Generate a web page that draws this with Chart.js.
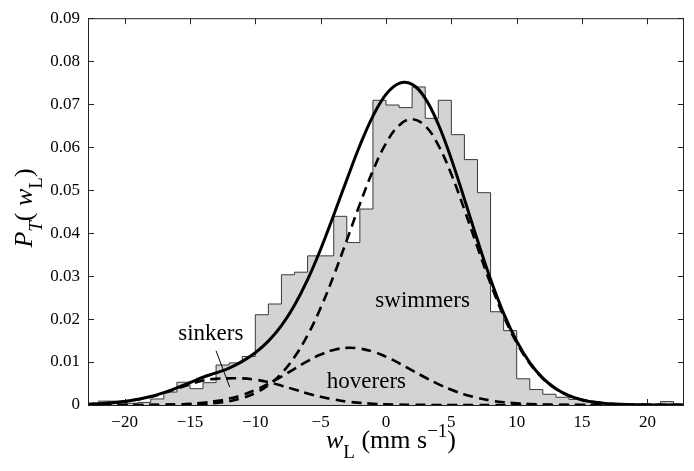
<!DOCTYPE html>
<html><head><meta charset="utf-8">
<script src="https://cdn.jsdelivr.net/npm/chart.js@4.4.0/dist/chart.umd.min.js"></script>
<style>html,body{margin:0;padding:0;background:#fff}#wrap{width:694px;height:471px}</style>
</head><body><div id="wrap"><canvas id="c" width="694" height="471"></canvas></div>
<script>
// Histogram: left bin edges (bin width 1) and heights
const binEdges = [-23,-22,-21,-20,-19,-18,-17,-16,-15,-14,-13,-12,-11,-10,-9,-8,-7,-6,-5,-4,-3,-2,-1,0,1,2,3,4,5,6,7,8,9,10,11,12,13,14,15,16,17,18,19,20,21,22,23];
const binHeights = [0.0004,0.0009,0.0009,0.0004,0.0006,0.0014,0.0030,0.0053,0.0038,0.0052,0.0093,0.0098,0.0113,0.0210,0.0235,0.0303,0.0309,0.0347,0.0347,0.0439,0.0378,0.0456,0.0709,0.0698,0.0692,0.0740,0.0667,0.0709,0.0629,0.0571,0.0494,0.0217,0.0173,0.0061,0.0036,0.0025,0.0018,0.0013,0.0009,0.0004,0.0002,0.0001,0.0001,0.0001,0.0008,0.0000,0.0000];

// Fitted curves read at integer w_L
const curveX = [-23,-22,-21,-20,-19,-18,-17,-16,-15,-14,-13,-12,-11,-10,-9,-8,-7,-6,-5,-4,-3,-2,-1,0,1,2,3,4,5,6,7,8,9,10,11,12,13,14,15,16,17,18,19,20,21,22,23];
const totalPDF = [0.00015,0.0003,0.00051,0.00083,0.00132,0.00197,0.00289,0.0040,0.00519,0.00646,0.00747,0.00858,0.01015,0.01217,0.01486,0.01846,0.0232,0.02915,0.03624,0.04421,0.05243,0.06037,0.06723,0.07228,0.07485,0.0746,0.07136,0.06533,0.05721,0.0479,0.03832,0.02927,0.02135,0.01487,0.00988,0.00626,0.00379,0.00219,0.0012,0.00063,0.00031,0.00015,0.00007,0.00003,0.00001,0,0];
const swimmersPDF = [0,0,0,0,0,0.00001,0.00002,0.00005,0.00011,0.00024,0.00047,0.00089,0.00161,0.00279,0.00463,0.00735,0.01117,0.01624,0.0226,0.0301,0.03834,0.04675,0.05454,0.0609,0.06505,0.0665,0.06494,0.06046,0.05367,0.04543,0.03667,0.02822,0.02071,0.01449,0.00967,0.00615,0.00373,0.00216,0.00119,0.00063,0.00031,0.00015,0.00007,0.00003,0.00001,0,0];
const hoverersPDF = [0,0,0,0,0.00001,0.00003,0.00007,0.00015,0.00028,0.00052,0.0009,0.00149,0.00234,0.00348,0.00493,0.00661,0.00843,0.01021,0.01174,0.01281,0.01329,0.01312,0.0124,0.01122,0.00972,0.00806,0.0064,0.00487,0.00354,0.00247,0.00165,0.00105,0.00064,0.00038,0.00021,0.00011,0.00006,0.00003,0.00001,0,0,0,0,0,0,0,0];
const sinkersPDF = [0.00015,0.0003,0.0005,0.0008,0.0013,0.0019,0.0028,0.0038,0.0048,0.0057,0.0061,0.0062,0.0062,0.0059,0.0053,0.0045,0.0036,0.0027,0.0019,0.0013,0.0008,0.0005,0.00029,0.00016,0.00008,0.00004,0.00002,0.00001,0,0,0,0,0,0,0,0,0,0,0,0,0,0,0,0,0,0,0];

const xTickValues = [-20,-15,-10,-5,0,5,10,15,20];
const yTickValues = [0,0.01,0.02,0.03,0.04,0.05,0.06,0.07,0.08,0.09];
const yTickLabels = ['0','0.01','0.02','0.03','0.04','0.05','0.06','0.07','0.08','0.09'];

const labelTexts = ['swimmers','sinkers','hoverers'];
const labelX = [2.8,-13.4,-1.5];
const labelY = [0.0229,0.0151,0.0039];
const pointerX = [-13.0,-11.96];
const pointerY = [0.0126,0.0042];

const SERIF = "'Liberation Serif','Times New Roman',serif";
Chart.defaults.font.family = SERIF;
Chart.defaults.font.size = 16;
Chart.defaults.color = '#000';

const pts = (xs, ys) => xs.map((v,i)=>({x:v,y:ys[i]}));

function fontFor(s, base){
  const sz = (s.sub||s.sup) ? Math.round(base*0.72) : base;
  return (s.italic?'italic ':'') + sz + 'px ' + SERIF;
}
function richText(ctx, segs, cx, cy, base){
  let w = 0;
  segs.forEach(s=>{ctx.font=fontFor(s,base); s.w=ctx.measureText(s.t).width; w+=s.w;});
  let xx = cx - w/2;
  segs.forEach(s=>{
    ctx.font=fontFor(s,base);
    const dy = s.sub ? base*0.38 : (s.sup ? -base*0.42 : 0);
    ctx.fillText(s.t, xx, cy+dy); xx += s.w;
  });
}

const frame = {
  id:'frame',
  beforeDatasetsDraw(chart){
    const {ctx, chartArea:a, scales:{x,y}} = chart;
    ctx.save();
    ctx.strokeStyle='#222'; ctx.lineWidth=1;
    const L=6;
    ctx.beginPath();
    xTickValues.forEach(v=>{const p=Math.round(x.getPixelForValue(v))+0.5;
      ctx.moveTo(p,a.bottom); ctx.lineTo(p,a.bottom-L); ctx.moveTo(p,a.top); ctx.lineTo(p,a.top+L);});
    yTickValues.forEach(v=>{const p=Math.round(y.getPixelForValue(v))+0.5;
      ctx.moveTo(a.left,p); ctx.lineTo(a.left+L,p); ctx.moveTo(a.right,p); ctx.lineTo(a.right-L,p);});
    ctx.stroke();
    ctx.restore();
  },
  afterDraw(chart){
    const {ctx, chartArea:a, scales:{x,y}} = chart;
    ctx.save();
    ctx.strokeStyle='#222'; ctx.lineWidth=1;
    ctx.strokeRect(a.left+0.5, a.top+0.5, a.right-a.left-1, a.bottom-a.top);
    // annotations
    ctx.fillStyle='#000'; ctx.textAlign='center'; ctx.textBaseline='alphabetic';
    ctx.font = '23px ' + SERIF;
    labelTexts.forEach((t,i)=>ctx.fillText(t, x.getPixelForValue(labelX[i]), y.getPixelForValue(labelY[i])));
    ctx.beginPath();
    ctx.moveTo(x.getPixelForValue(pointerX[0]), y.getPixelForValue(pointerY[0]));
    ctx.lineTo(x.getPixelForValue(pointerX[1]), y.getPixelForValue(pointerY[1]));
    ctx.lineWidth=1; ctx.strokeStyle='#000'; ctx.stroke();
    // axis titles
    ctx.textAlign='left';
    const cx = (a.left+a.right)/2;
    richText(ctx, [{t:'w',italic:true},{t:'L',sub:true},{t:' (mm s'},{t:'\u22121',sup:true},{t:')'}], cx+5, 448, 26);
    ctx.save();
    ctx.translate(32, 208);
    ctx.rotate(-Math.PI/2);
    richText(ctx, [{t:'P',italic:true},{t:'T',italic:true,sub:true},{t:'( '},{t:'w',italic:true},{t:'L',sub:true},{t:')'}], 0, 0, 26);
    ctx.restore();
    ctx.restore();
  }
};

const dashed = (data) => ({type:'line', data, borderColor:'#000', borderWidth:2.6, borderDash:[10,6],
  pointRadius:0, fill:false, tension:0.4, order:1});

new Chart(document.getElementById('c'), {
  type:'line',
  data:{datasets:[
    {type:'line', data:pts(curveX,totalPDF), borderColor:'#000', borderWidth:3, pointRadius:0, fill:false, tension:0.4, order:0},
    dashed(pts(curveX,swimmersPDF)),
    dashed(pts(curveX,hoverersPDF)),
    dashed(pts(curveX,sinkersPDF)),
    {type:'line', data:pts(binEdges,binHeights), stepped:'before', borderColor:'#3a3a3a', borderWidth:1,
      backgroundColor:'#d3d3d3', fill:'origin', pointRadius:0, tension:0, order:10}
  ]},
  options:{
    responsive:false, animation:false, devicePixelRatio:1,
    layout:{padding:{top:12,right:10,left:0,bottom:0}},
    plugins:{legend:{display:false}, tooltip:{enabled:false}},
    scales:{
      x:{type:'linear', min:-22.8, max:22.8,
        grid:{display:false, drawTicks:false}, border:{display:false},
        afterBuildTicks:s=>{s.ticks = xTickValues.map(v=>({value:v}));},
        afterFit:s=>{s.height=66;},
        ticks:{padding:7, maxRotation:0, autoSkip:false, font:{size:17},
          callback:v=> v<0 ? '\u2212'+Math.abs(v) : String(v)}},
      y:{type:'linear', min:0, max:0.09,
        grid:{display:false, drawTicks:false}, border:{display:false},
        afterBuildTicks:s=>{s.ticks = yTickValues.map(v=>({value:v}));},
        afterFit:s=>{s.width=88;},
        ticks:{padding:8, autoSkip:false, font:{size:17},
          callback:(v,i)=> yTickLabels[i]}}
    }
  },
  plugins:[frame]
});
</script></body></html>
